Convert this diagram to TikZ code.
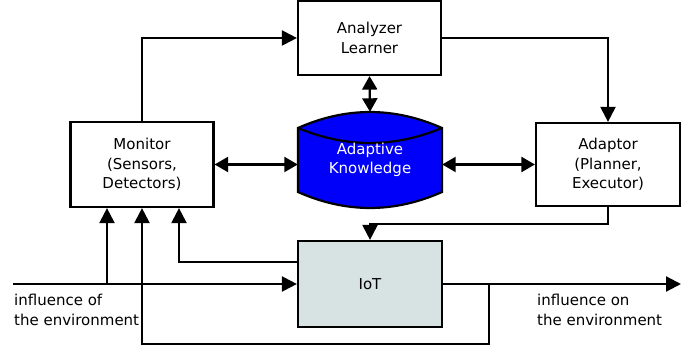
\documentclass[tikz,border=0pt]{standalone}
\usepackage{fontspec}
\setmainfont{DejaVu Sans}
\usetikzlibrary{arrows.meta,calc}
\definecolor{iotfill}{HTML}{D7E3E3}
\definecolor{kbblue}{HTML}{0000FA}
\begin{document}
\begin{tikzpicture}[x=1pt,y=-1pt, font=\fontsize{15}{19.5}\selectfont,
  box/.style={draw, line width=2.2pt, inner sep=0pt, align=center},
  arr/.style={line width=2.2pt, -{Triangle[length=15pt,width=15pt]}},
  darr/.style={line width=2.2pt, {Triangle[length=13.5pt,width=15pt]}-{Triangle[length=13.5pt,width=15pt]}},
  lbl/.style={anchor=west, align=left, inner sep=0pt}]
\useasboundingbox (0,0) rectangle (699,347);
% boxes
\node[box, minimum width=143pt, minimum height=74pt] (an) at (369.5,38) {Analyzer\\Learner};
\node[box, minimum width=143pt, minimum height=85pt] (mon) at (142,164.5) {Monitor\\(Sensors,\\Detectors)};
\node[box, minimum width=144pt, minimum height=83pt] (ad) at (608,164.5) {Adaptor\\(Planner,\\Executor)};
\node[box, fill=iotfill, minimum width=144pt, minimum height=86pt] (iot) at (370,284) {IoT};
% cylinder
\filldraw[fill=kbblue, line width=2.2pt] (298,128) .. controls (346,106.7) and (394,106.7) .. (442,128) -- (442,192) .. controls (394,213.3) and (346,213.3) .. (298,192) -- cycle;
\draw[line width=2.2pt] (298,128) .. controls (346,148) and (394,148) .. (442,128);
\node[minimum width=144pt, minimum height=96pt, inner sep=0pt, align=center, text=white] (kb) at (370,160) {Adaptive\\Knowledge};
% labels
\node[lbl] (inf1) at (14,310) {influence of\\the environment};
\node[lbl] (inf2) at (537,310) {influence on\\the environment};
% coordinates
\coordinate (inL) at (13,284);
\coordinate (j1) at (107,284);
\coordinate (j2) at (489,284);
\coordinate (bot) at (489,344);
\coordinate (outR) at (681,284);
% connectors
\draw[arr] (mon.north) |- (an.west);
\draw[arr] (an.east) -| (ad.north);
\draw[darr] (an.south) -- (kb.north);
\draw[darr] (mon.east) -- (kb.west |- mon.east);
\draw[darr] (kb.east |- ad.west) -- (ad.west);
\draw[arr] (ad.south) -- ++(0,17) -| (iot.north);
\draw[arr] ([yshift=22pt]iot.west) -| ([xshift=37pt]mon.south);
\draw[arr] (inL) -- (iot.west);
\draw[arr] (j1) -- (j1 |- mon.south);
\draw[arr] (iot.east) -- (outR);
\draw[arr] (j2) -- (bot) -| (mon.south);
\end{tikzpicture}
\end{document}
